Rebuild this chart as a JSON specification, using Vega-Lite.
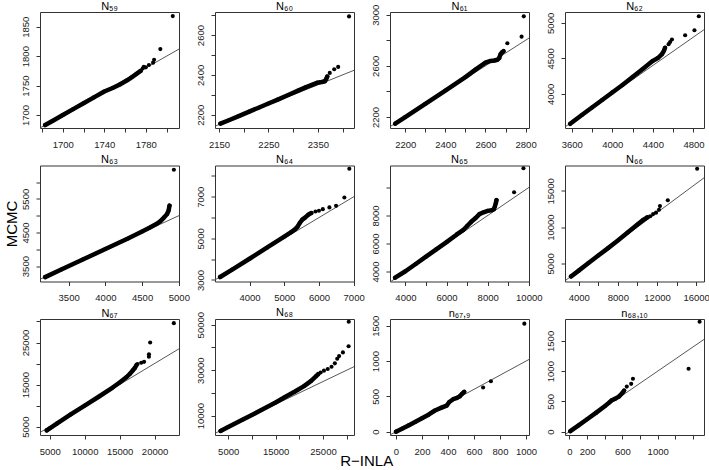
{
"$schema": "https://vega.github.io/schema/vega-lite/v6.json",
"padding": {"left": 3, "top": 0, "right": 0, "bottom": 0},
"title": {"text": "R−INLA", "orient": "bottom", "fontSize": 15, "offset": -2.5, "anchor": "middle", "dx": 10},
"columns": 4,
"bounds": "flush",
"spacing": {"row": 37.5, "column": 36},
"concat": [
{"title": "N₅₉", "width": 139, "height": 116,
 "data": {"values": [
  {"x":1600,"y":1600,"t":"r"},{"x":1900,"y":1900,"t":"r"},
  {"x":1683,"y":1683,"t":"b"},{"x":1690,"y":1690,"t":"b"},{"x":1700,"y":1700,"t":"b"},{"x":1710,"y":1710,"t":"b"},{"x":1720,"y":1720,"t":"b"},{"x":1730,"y":1730,"t":"b"},{"x":1740,"y":1740,"t":"b"},{"x":1748,"y":1746,"t":"b"},{"x":1755,"y":1752,"t":"b"},{"x":1762,"y":1759,"t":"b"},{"x":1767,"y":1765,"t":"b"},{"x":1771,"y":1770,"t":"b"},{"x":1775,"y":1775,"t":"b"},
  {"x":1777,"y":1779,"t":"d"},{"x":1778,"y":1782,"t":"d"},{"x":1780,"y":1781,"t":"d"},{"x":1783,"y":1785,"t":"d"},{"x":1787,"y":1789,"t":"d"},{"x":1788,"y":1794,"t":"d"},{"x":1794,"y":1812,"t":"d"},{"x":1806,"y":1868,"t":"d"}]},
 "encoding": {
  "x": {"field":"x","type":"quantitative","title":null,"scale":{"domain":[1678,1812],"nice":false,"zero":false},"axis":{"values":[1680,1700,1720,1740,1760,1780,1800],"labelExpr":"indexof([1700,1740,1780],datum.value)>=0?datum.label:''"}},
  "y": {"field":"y","type":"quantitative","title":null,"scale":{"domain":[1678,1875],"nice":false,"zero":false},"axis":{"values":[1700,1750,1800,1850]}}},
 "layer": [
  {"transform":[{"filter":"datum.t=='r'"}],"mark":{"type":"line","clip":true,"color":"#444","strokeWidth":0.9}},
  {"transform":[{"filter":"datum.t=='b'"}],"mark":{"type":"line","clip":true,"color":"#000","strokeWidth":4.5,"strokeCap":"round","strokeJoin":"round"}},
  {"transform":[{"filter":"datum.t!='r'"}],"mark":{"type":"circle","size":17,"color":"#000","opacity":1}}]},
{"title": "N₆₀", "width": 139, "height": 116,
 "data": {"values": [
  {"x":2000,"y":2000,"t":"r"},{"x":2800,"y":2800,"t":"r"},
  {"x":2153,"y":2155,"t":"b"},{"x":2170,"y":2172,"t":"b"},{"x":2190,"y":2193,"t":"b"},{"x":2210,"y":2214,"t":"b"},{"x":2230,"y":2235,"t":"b"},{"x":2250,"y":2256,"t":"b"},{"x":2270,"y":2277,"t":"b"},{"x":2290,"y":2299,"t":"b"},{"x":2310,"y":2321,"t":"b"},{"x":2325,"y":2337,"t":"b"},{"x":2338,"y":2350,"t":"b"},{"x":2348,"y":2360,"t":"b"},{"x":2358,"y":2364,"t":"b"},{"x":2364,"y":2368,"t":"b"},{"x":2367,"y":2380,"t":"b"},{"x":2369,"y":2392,"t":"b"},
  {"x":2374,"y":2410,"t":"d"},{"x":2383,"y":2428,"t":"d"},{"x":2391,"y":2440,"t":"d"},{"x":2413,"y":2694,"t":"d"}]},
 "encoding": {
  "x": {"field":"x","type":"quantitative","title":null,"scale":{"domain":[2142,2423],"nice":false,"zero":false},"axis":{"values":[2150,2200,2250,2300,2350,2400],"labelExpr":"indexof([2150,2250,2350],datum.value)>=0?datum.label:''"}},
  "y": {"field":"y","type":"quantitative","title":null,"scale":{"domain":[2133,2716],"nice":false,"zero":false},"axis":{"values":[2200,2300,2400,2500,2600,2700],"labelExpr":"indexof([2200,2400,2600],datum.value)>=0?datum.label:''"}}},
 "layer": [
  {"transform":[{"filter":"datum.t=='r'"}],"mark":{"type":"line","clip":true,"color":"#444","strokeWidth":0.9}},
  {"transform":[{"filter":"datum.t=='b'"}],"mark":{"type":"line","clip":true,"color":"#000","strokeWidth":4.5,"strokeCap":"round","strokeJoin":"round"}},
  {"transform":[{"filter":"datum.t!='r'"}],"mark":{"type":"circle","size":17,"color":"#000","opacity":1}}]},
{"title": {"text": "N₆₁", "offset": -7.4}, "width": 139, "height": 116,
 "data": {"values": [
  {"x":2000,"y":2000,"t":"r"},{"x":3100,"y":3100,"t":"r"},
  {"x":2150,"y":2148,"t":"b"},{"x":2200,"y":2200,"t":"b"},{"x":2300,"y":2303,"t":"b"},{"x":2400,"y":2407,"t":"b"},{"x":2500,"y":2512,"t":"b"},{"x":2550,"y":2570,"t":"b"},{"x":2600,"y":2625,"t":"b"},{"x":2625,"y":2638,"t":"b"},{"x":2645,"y":2642,"t":"b"},{"x":2660,"y":2648,"t":"b"},{"x":2668,"y":2660,"t":"b"},{"x":2675,"y":2690,"t":"b"},{"x":2682,"y":2705,"t":"b"},{"x":2690,"y":2715,"t":"b"},
  {"x":2709,"y":2777,"t":"d"},{"x":2780,"y":2828,"t":"d"},{"x":2791,"y":2987,"t":"d"}]},
 "encoding": {
  "x": {"field":"x","type":"quantitative","title":null,"scale":{"domain":[2124,2817],"nice":false,"zero":false},"axis":{"values":[2200,2300,2400,2500,2600,2700,2800],"labelExpr":"indexof([2200,2400,2600,2800],datum.value)>=0?datum.label:''"}},
  "y": {"field":"y","type":"quantitative","title":null,"scale":{"domain":[2114,3021],"nice":false,"zero":false},"axis":{"values":[2200,2400,2600,2800,3000],"labelExpr":"indexof([2200,2600,3000],datum.value)>=0?datum.label:''"}}},
 "layer": [
  {"transform":[{"filter":"datum.t=='r'"}],"mark":{"type":"line","clip":true,"color":"#444","strokeWidth":0.9}},
  {"transform":[{"filter":"datum.t=='b'"}],"mark":{"type":"line","clip":true,"color":"#000","strokeWidth":4.5,"strokeCap":"round","strokeJoin":"round"}},
  {"transform":[{"filter":"datum.t!='r'"}],"mark":{"type":"circle","size":17,"color":"#000","opacity":1}}]},
{"title": "N₆₂", "width": 139, "height": 116,
 "data": {"values": [
  {"x":3400,"y":3400,"t":"r"},{"x":5200,"y":5200,"t":"r"},
  {"x":3585,"y":3578,"t":"b"},{"x":3700,"y":3703,"t":"b"},{"x":3800,"y":3808,"t":"b"},{"x":3900,"y":3913,"t":"b"},{"x":4000,"y":4020,"t":"b"},{"x":4100,"y":4125,"t":"b"},{"x":4200,"y":4238,"t":"b"},{"x":4300,"y":4350,"t":"b"},{"x":4400,"y":4465,"t":"b"},{"x":4450,"y":4505,"t":"b"},{"x":4490,"y":4560,"t":"b"},{"x":4510,"y":4610,"t":"b"},{"x":4520,"y":4650,"t":"b"},
  {"x":4555,"y":4700,"t":"d"},{"x":4570,"y":4730,"t":"d"},{"x":4588,"y":4765,"t":"d"},{"x":4718,"y":4825,"t":"d"},{"x":4810,"y":4896,"t":"d"},{"x":4853,"y":5093,"t":"d"}]},
 "encoding": {
  "x": {"field":"x","type":"quantitative","title":null,"scale":{"domain":[3534,4904],"nice":false,"zero":false},"axis":{"values":[3600,3800,4000,4200,4400,4600,4800],"labelExpr":"indexof([3600,4000,4400,4800],datum.value)>=0?datum.label:''"}},
  "y": {"field":"y","type":"quantitative","title":null,"scale":{"domain":[3519,5153],"nice":false,"zero":false},"axis":{"values":[4000,4500,5000]}}},
 "layer": [
  {"transform":[{"filter":"datum.t=='r'"}],"mark":{"type":"line","clip":true,"color":"#444","strokeWidth":0.9}},
  {"transform":[{"filter":"datum.t=='b'"}],"mark":{"type":"line","clip":true,"color":"#000","strokeWidth":4.5,"strokeCap":"round","strokeJoin":"round"}},
  {"transform":[{"filter":"datum.t!='r'"}],"mark":{"type":"circle","size":17,"color":"#000","opacity":1}}]},
{"title": "N₆₃", "width": 139, "height": 116,
 "data": {"values": [
  {"x":3000,"y":3000,"t":"r"},{"x":6600,"y":6600,"t":"r"},
  {"x":3180,"y":3172,"t":"b"},{"x":3400,"y":3400,"t":"b"},{"x":3700,"y":3703,"t":"b"},{"x":4000,"y":4008,"t":"b"},{"x":4300,"y":4315,"t":"b"},{"x":4500,"y":4530,"t":"b"},{"x":4600,"y":4640,"t":"b"},{"x":4700,"y":4760,"t":"b"},{"x":4750,"y":4840,"t":"b"},{"x":4800,"y":4950,"t":"b"},{"x":4840,"y":5050,"t":"b"},{"x":4860,"y":5150,"t":"b"},{"x":4873,"y":5300,"t":"b"},
  {"x":4932,"y":6365,"t":"d"}]},
 "encoding": {
  "x": {"field":"x","type":"quantitative","title":null,"scale":{"domain":[3110,5002],"nice":false,"zero":false},"axis":{"values":[3500,4000,4500,5000]}},
  "y": {"field":"y","type":"quantitative","title":"MCMC","scale":{"domain":[3042,6493],"nice":false,"zero":false},"axis":{"values":[3500,4000,4500,5000,5500,6000],"labelExpr":"indexof([3500,4500,5500],datum.value)>=0?datum.label:''"}}},
 "layer": [
  {"transform":[{"filter":"datum.t=='r'"}],"mark":{"type":"line","clip":true,"color":"#444","strokeWidth":0.9}},
  {"transform":[{"filter":"datum.t=='b'"}],"mark":{"type":"line","clip":true,"color":"#000","strokeWidth":4.5,"strokeCap":"round","strokeJoin":"round"}},
  {"transform":[{"filter":"datum.t!='r'"}],"mark":{"type":"circle","size":17,"color":"#000","opacity":1}}]},
{"title": "N₆₄", "width": 139, "height": 116,
 "data": {"values": [
  {"x":2800,"y":2800,"t":"r"},{"x":8600,"y":8600,"t":"r"},
  {"x":3153,"y":3140,"t":"b"},{"x":3500,"y":3500,"t":"b"},{"x":4000,"y":4020,"t":"b"},{"x":4500,"y":4550,"t":"b"},{"x":5000,"y":5080,"t":"b"},{"x":5200,"y":5300,"t":"b"},{"x":5300,"y":5420,"t":"b"},{"x":5380,"y":5550,"t":"b"},{"x":5450,"y":5750,"t":"b"},{"x":5520,"y":5900,"t":"b"},{"x":5600,"y":6000,"t":"b"},{"x":5700,"y":6150,"t":"b"},{"x":5780,"y":6220,"t":"b"},
  {"x":5900,"y":6290,"t":"d"},{"x":6000,"y":6330,"t":"d"},{"x":6111,"y":6406,"t":"d"},{"x":6301,"y":6488,"t":"d"},{"x":6493,"y":6564,"t":"d"},{"x":6732,"y":6964,"t":"d"},{"x":6875,"y":8347,"t":"d"}]},
 "encoding": {
  "x": {"field":"x","type":"quantitative","title":null,"scale":{"domain":[3005,7010],"nice":false,"zero":false},"axis":{"values":[4000,5000,6000,7000]}},
  "y": {"field":"y","type":"quantitative","title":null,"scale":{"domain":[2925,8505],"nice":false,"zero":false},"axis":{"values":[3000,4000,5000,6000,7000,8000],"labelExpr":"indexof([3000,5000,7000],datum.value)>=0?datum.label:''"}}},
 "layer": [
  {"transform":[{"filter":"datum.t=='r'"}],"mark":{"type":"line","clip":true,"color":"#444","strokeWidth":0.9}},
  {"transform":[{"filter":"datum.t=='b'"}],"mark":{"type":"line","clip":true,"color":"#000","strokeWidth":4.5,"strokeCap":"round","strokeJoin":"round"}},
  {"transform":[{"filter":"datum.t!='r'"}],"mark":{"type":"circle","size":17,"color":"#000","opacity":1}}]},
{"title": "N₆₅", "width": 139, "height": 116,
 "data": {"values": [
  {"x":3000,"y":3000,"t":"r"},{"x":12000,"y":12000,"t":"r"},
  {"x":3500,"y":3560,"t":"b"},{"x":4000,"y":4020,"t":"b"},{"x":4500,"y":4540,"t":"b"},{"x":5000,"y":5060,"t":"b"},{"x":5500,"y":5580,"t":"b"},{"x":6000,"y":6100,"t":"b"},{"x":6500,"y":6650,"t":"b"},{"x":6800,"y":6950,"t":"b"},{"x":7000,"y":7250,"t":"b"},{"x":7200,"y":7550,"t":"b"},{"x":7400,"y":7800,"t":"b"},{"x":7600,"y":8100,"t":"b"},{"x":7800,"y":8230,"t":"b"},{"x":8000,"y":8330,"t":"b"},{"x":8200,"y":8380,"t":"b"},{"x":8300,"y":8450,"t":"b"},{"x":8350,"y":8650,"t":"b"},{"x":8400,"y":8900,"t":"b"},{"x":8430,"y":9100,"t":"b"},
  {"x":9284,"y":9665,"t":"d"},{"x":9740,"y":11371,"t":"d"}]},
 "encoding": {
  "x": {"field":"x","type":"quantitative","title":null,"scale":{"domain":[3250,10010],"nice":false,"zero":false},"axis":{"values":[4000,5000,6000,7000,8000,9000,10000],"labelExpr":"indexof([4000,6000,8000,10000],datum.value)>=0?datum.label:''"}},
  "y": {"field":"y","type":"quantitative","title":null,"scale":{"domain":[3290,11570],"nice":false,"zero":false},"axis":{"values":[4000,6000,8000,10000],"labelExpr":"indexof([4000,6000,8000],datum.value)>=0?datum.label:''"}}},
 "layer": [
  {"transform":[{"filter":"datum.t=='r'"}],"mark":{"type":"line","clip":true,"color":"#444","strokeWidth":0.9}},
  {"transform":[{"filter":"datum.t=='b'"}],"mark":{"type":"line","clip":true,"color":"#000","strokeWidth":4.5,"strokeCap":"round","strokeJoin":"round"}},
  {"transform":[{"filter":"datum.t!='r'"}],"mark":{"type":"circle","size":17,"color":"#000","opacity":1}}]},
{"title": "N₆₆", "width": 139, "height": 116,
 "data": {"values": [
  {"x":2000,"y":2000,"t":"r"},{"x":19000,"y":19000,"t":"r"},
  {"x":3215,"y":3200,"t":"b"},{"x":4000,"y":4000,"t":"b"},{"x":5000,"y":5050,"t":"b"},{"x":6000,"y":6080,"t":"b"},{"x":7000,"y":7100,"t":"b"},{"x":8000,"y":8150,"t":"b"},{"x":9000,"y":9250,"t":"b"},{"x":10000,"y":10350,"t":"b"},{"x":10600,"y":11000,"t":"b"},{"x":11000,"y":11350,"t":"b"},
  {"x":11300,"y":11500,"t":"d"},{"x":11600,"y":11800,"t":"d"},{"x":11900,"y":12000,"t":"d"},{"x":12200,"y":12400,"t":"d"},{"x":12300,"y":12900,"t":"d"},{"x":13100,"y":13700,"t":"d"},{"x":16100,"y":18060,"t":"d"}]},
 "encoding": {
  "x": {"field":"x","type":"quantitative","title":null,"scale":{"domain":[2600,16800],"nice":false,"zero":false},"axis":{"values":[4000,6000,8000,10000,12000,14000,16000],"labelExpr":"indexof([4000,8000,12000,16000],datum.value)>=0?datum.label:''"}},
  "y": {"field":"y","type":"quantitative","title":null,"scale":{"domain":[2500,18500],"nice":false,"zero":false},"axis":{"values":[5000,10000,15000]}}},
 "layer": [
  {"transform":[{"filter":"datum.t=='r'"}],"mark":{"type":"line","clip":true,"color":"#444","strokeWidth":0.9}},
  {"transform":[{"filter":"datum.t=='b'"}],"mark":{"type":"line","clip":true,"color":"#000","strokeWidth":4.5,"strokeCap":"round","strokeJoin":"round"}},
  {"transform":[{"filter":"datum.t!='r'"}],"mark":{"type":"circle","size":17,"color":"#000","opacity":1}}]},
{"title": "N₆₇", "width": 139, "height": 116,
 "data": {"values": [
  {"x":2500,"y":2500,"t":"r"},{"x":31000,"y":31000,"t":"r"},
  {"x":4560,"y":4100,"t":"b"},{"x":5000,"y":4600,"t":"b"},{"x":6000,"y":5700,"t":"b"},{"x":8000,"y":7900,"t":"b"},{"x":10000,"y":10000,"t":"b"},{"x":12000,"y":12100,"t":"b"},{"x":14000,"y":14300,"t":"b"},{"x":15000,"y":15500,"t":"b"},{"x":16000,"y":16800,"t":"b"},{"x":16500,"y":17600,"t":"b"},{"x":16900,"y":18400,"t":"b"},{"x":17200,"y":19000,"t":"b"},{"x":17400,"y":19600,"t":"b"},
  {"x":17560,"y":19900,"t":"d"},{"x":18090,"y":20200,"t":"d"},{"x":18500,"y":20400,"t":"d"},{"x":19190,"y":21600,"t":"d"},{"x":19200,"y":22200,"t":"d"},{"x":19370,"y":25000,"t":"d"},{"x":22760,"y":29600,"t":"d"}]},
 "encoding": {
  "x": {"field":"x","type":"quantitative","title":null,"scale":{"domain":[3600,23500],"nice":false,"zero":false},"axis":{"values":[5000,10000,15000,20000]}},
  "y": {"field":"y","type":"quantitative","title":null,"scale":{"domain":[3010,30590],"nice":false,"zero":false},"axis":{"values":[5000,10000,15000,20000,25000,30000],"labelExpr":"indexof([5000,15000,25000],datum.value)>=0?datum.label:''"}}},
 "layer": [
  {"transform":[{"filter":"datum.t=='r'"}],"mark":{"type":"line","clip":true,"color":"#444","strokeWidth":0.9}},
  {"transform":[{"filter":"datum.t=='b'"}],"mark":{"type":"line","clip":true,"color":"#000","strokeWidth":4.5,"strokeCap":"round","strokeJoin":"round"}},
  {"transform":[{"filter":"datum.t!='r'"}],"mark":{"type":"circle","size":17,"color":"#000","opacity":1}}]},
{"title": {"text": "N₆₈", "offset": -7}, "width": 139, "height": 116,
 "data": {"values": [
  {"x":1000,"y":1000,"t":"r"},{"x":53000,"y":53000,"t":"r"},
  {"x":3400,"y":3300,"t":"b"},{"x":5000,"y":5000,"t":"b"},{"x":8000,"y":8200,"t":"b"},{"x":10000,"y":10300,"t":"b"},{"x":12000,"y":12500,"t":"b"},{"x":15000,"y":15800,"t":"b"},{"x":17000,"y":18200,"t":"b"},{"x":19000,"y":20500,"t":"b"},{"x":21000,"y":23000,"t":"b"},{"x":22500,"y":25300,"t":"b"},{"x":23500,"y":27300,"t":"b"},{"x":24000,"y":28300,"t":"b"},
  {"x":24500,"y":29000,"t":"d"},{"x":25200,"y":29800,"t":"d"},{"x":26000,"y":30500,"t":"d"},{"x":26800,"y":31500,"t":"d"},{"x":27500,"y":33000,"t":"d"},{"x":28000,"y":35000,"t":"d"},{"x":28400,"y":36200,"t":"d"},{"x":29200,"y":37800,"t":"d"},{"x":30400,"y":40500,"t":"d"},{"x":30430,"y":51300,"t":"d"}]},
 "encoding": {
  "x": {"field":"x","type":"quantitative","title":null,"scale":{"domain":[2220,31540],"nice":false,"zero":false},"axis":{"values":[5000,10000,15000,20000,25000,30000],"labelExpr":"indexof([5000,15000,25000],datum.value)>=0?datum.label:''"}},
  "y": {"field":"y","type":"quantitative","title":null,"scale":{"domain":[1500,52500],"nice":false,"zero":false},"axis":{"values":[10000,20000,30000,40000,50000],"labelExpr":"indexof([10000,30000,50000],datum.value)>=0?datum.label:''"}}},
 "layer": [
  {"transform":[{"filter":"datum.t=='r'"}],"mark":{"type":"line","clip":true,"color":"#444","strokeWidth":0.9}},
  {"transform":[{"filter":"datum.t=='b'"}],"mark":{"type":"line","clip":true,"color":"#000","strokeWidth":4.5,"strokeCap":"round","strokeJoin":"round"}},
  {"transform":[{"filter":"datum.t!='r'"}],"mark":{"type":"circle","size":17,"color":"#000","opacity":1}}]},
{"title": {"text": "n₆₇,₉", "offset": -3.3}, "width": 139, "height": 116,
 "data": {"values": [
  {"x":-100,"y":-100,"t":"r"},{"x":1700,"y":1700,"t":"r"},
  {"x":0,"y":0,"t":"b"},{"x":50,"y":45,"t":"b"},{"x":100,"y":92,"t":"b"},{"x":150,"y":140,"t":"b"},{"x":200,"y":190,"t":"b"},{"x":250,"y":240,"t":"b"},{"x":300,"y":300,"t":"b"},{"x":350,"y":340,"t":"b"},{"x":390,"y":370,"t":"b"},{"x":410,"y":420,"t":"b"},{"x":440,"y":460,"t":"b"},{"x":470,"y":480,"t":"b"},{"x":490,"y":500,"t":"b"},{"x":510,"y":540,"t":"b"},{"x":525,"y":565,"t":"b"},
  {"x":670,"y":625,"t":"d"},{"x":730,"y":715,"t":"d"},{"x":987,"y":1530,"t":"d"}]},
 "encoding": {
  "x": {"field":"x","type":"quantitative","title":null,"scale":{"domain":[-46,1023],"nice":false,"zero":false},"axis":{"values":[0,200,400,600,800,1000]}},
  "y": {"field":"y","type":"quantitative","title":null,"scale":{"domain":[-47,1596],"nice":false,"zero":false},"axis":{"values":[0,500,1000,1500]}}},
 "layer": [
  {"transform":[{"filter":"datum.t=='r'"}],"mark":{"type":"line","clip":true,"color":"#444","strokeWidth":0.9}},
  {"transform":[{"filter":"datum.t=='b'"}],"mark":{"type":"line","clip":true,"color":"#000","strokeWidth":4.5,"strokeCap":"round","strokeJoin":"round"}},
  {"transform":[{"filter":"datum.t!='r'"}],"mark":{"type":"circle","size":17,"color":"#000","opacity":1}}]},
{"title": "n₆₈,₁₀", "width": 139, "height": 116,
 "data": {"values": [
  {"x":-100,"y":-100,"t":"r"},{"x":1900,"y":1900,"t":"r"},
  {"x":10,"y":8,"t":"b"},{"x":100,"y":100,"t":"b"},{"x":200,"y":205,"t":"b"},{"x":300,"y":310,"t":"b"},{"x":400,"y":420,"t":"b"},{"x":450,"y":480,"t":"b"},{"x":480,"y":520,"t":"b"},{"x":520,"y":545,"t":"b"},{"x":560,"y":580,"t":"b"},{"x":600,"y":640,"t":"b"},{"x":620,"y":680,"t":"b"},
  {"x":650,"y":745,"t":"d"},{"x":700,"y":790,"t":"d"},{"x":720,"y":875,"t":"d"},{"x":1350,"y":1040,"t":"d"},{"x":1475,"y":1817,"t":"d"}]},
 "encoding": {
  "x": {"field":"x","type":"quantitative","title":null,"scale":{"domain":[-50,1525],"nice":false,"zero":false},"axis":{"values":[0,200,400,600,800,1000,1200,1400],"labelExpr":"indexof([0,200,600,1000],datum.value)>=0?datum.label:''"}},
  "y": {"field":"y","type":"quantitative","title":null,"scale":{"domain":[-55,1862],"nice":false,"zero":false},"axis":{"values":[0,500,1000,1500]}}},
 "layer": [
  {"transform":[{"filter":"datum.t=='r'"}],"mark":{"type":"line","clip":true,"color":"#444","strokeWidth":0.9}},
  {"transform":[{"filter":"datum.t=='b'"}],"mark":{"type":"line","clip":true,"color":"#000","strokeWidth":4.5,"strokeCap":"round","strokeJoin":"round"}},
  {"transform":[{"filter":"datum.t!='r'"}],"mark":{"type":"circle","size":17,"color":"#000","opacity":1}}]}
],
"config": {
 "font": "Liberation Sans",
 "numberFormat": "d",
 "view": {"stroke": "#333", "strokeWidth": 1},
 "axis": {"domain": false, "grid": false, "tickSize": 4, "tickColor": "#333", "tickWidth": 1, "labelFont": "Liberation Sans", "labelFontSize": 9.5, "labelColor": "#222", "labelOverlap": false, "labelFlush": false, "labelBound": false, "titleFont": "Liberation Sans", "titleFontWeight": "normal", "titleFontSize": 15, "titleColor": "#000", "titlePadding": 1},
 "axisX": {"labelPadding": 7},
 "axisY": {"labelAngle": -90, "labelAlign": "center", "labelBaseline": "bottom", "labelPadding": 6},
 "title": {"font": "Liberation Sans", "fontSize": 11, "fontWeight": "normal", "color": "#000", "offset": 0.5}
}
}
